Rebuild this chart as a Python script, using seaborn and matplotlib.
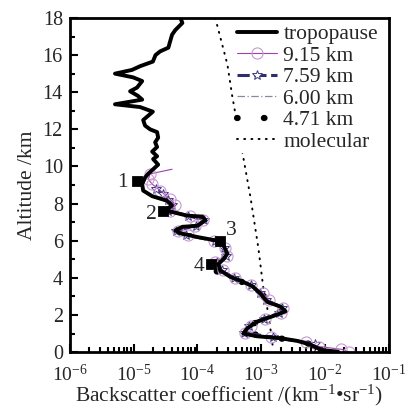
import numpy as np
import pandas as pd
import matplotlib
matplotlib.use("Agg")
import matplotlib.pyplot as plt
from matplotlib.ticker import MultipleLocator, LogLocator, NullFormatter
import seaborn as sns

# ---------------- data ----------------
trop_alt = [18.0, 17.73, 17.35, 17.1, 16.7, 16.4, 16.2, 16.0, 15.65, 15.4, 15.2, 15.0,
            14.8, 14.6, 14.25, 14.05, 13.8, 13.6, 13.35, 13.2, 12.95, 12.5, 12.2, 12.0,
            11.85, 11.55, 11.3, 11.05, 10.8, 10.55, 10.4, 10.1, 9.85, 9.6, 9.4, 9.05,
            8.7, 8.4, 8.15, 7.9, 7.75, 7.6, 7.55, 7.35, 7.3, 7.1, 6.8, 6.75, 6.55, 6.4,
            6.2, 6.0, 5.75, 5.3, 5.0, 4.75, 4.4, 4.05, 3.85, 3.55, 3.15, 2.7, 2.45, 2.2,
            1.95, 1.65, 1.3, 1.0, 0.85, 0.75, 0.6, 0.4, 0.2, 0.1, 0.02]
trop_val = [5.4e-5, 5.8e-5, 4.5e-5, 4.0e-5, 3.7e-5, 3.5e-5, 2.6e-5, 2.2e-5, 2.0e-5, 1.26e-5,
            9.4e-6, 5.1e-6, 9.8e-6, 1.36e-5, 1.13e-5, 8.8e-6, 1.17e-5, 1.36e-5, 5.1e-6,
            1.26e-5, 2.0e-5, 1.41e-5, 1.51e-5, 1.81e-5, 2.33e-5, 2.42e-5, 2.17e-5, 2.33e-5,
            1.95e-5, 2.33e-5, 2.02e-5, 2.42e-5, 2.02e-5, 1.68e-5, 1.51e-5, 1.36e-5, 1.41e-5,
            1.95e-5, 3.35e-5, 4.0e-5, 3.5e-5, 3.0e-5, 4.0e-5, 6.9e-5, 1.19e-4, 1.33e-4,
            9.9e-5, 5.8e-5, 4.5e-5, 5.4e-5, 9.9e-5, 2.05e-4, 2.55e-4, 2.94e-4, 2.55e-4,
            2.12e-4, 2.28e-4, 3.28e-4, 4.71e-4, 7.28e-4, 9.7e-4, 1.25e-3, 2.0e-3, 2.4e-3,
            1.56e-3, 8.7e-4, 6.1e-4, 5.25e-4, 8.7e-4, 2.0e-3, 3.7e-3, 5.9e-3, 7.7e-3,
            9.5e-3, 1.6e-2]

p915_alt = [9.85, 9.6, 9.3, 9.05, 8.7, 8.25, 7.9, 7.6, 7.35, 7.1, 6.8, 6.55, 6.3, 6.0,
            5.6, 5.2, 4.85, 4.4, 4.0, 3.6, 3.2, 2.8, 2.4, 2.1, 1.8, 1.4, 1.05, 0.8, 0.55,
            0.3, 0.15, 0.0]
p915_val = [4.0e-5, 1.8e-5, 1.7e-5, 1.95e-5, 2.6e-5, 3.7e-5, 4.5e-5, 3.7e-5, 7.7e-5,
            1.2e-4, 9.2e-5, 5.0e-5, 7.2e-5, 1.8e-4, 2.7e-4, 2.9e-4, 1.9e-4, 2.5e-4, 3.9e-4,
            6.8e-4, 1.05e-3, 1.3e-3, 2.2e-3, 2.0e-3, 1.15e-3, 6.8e-4, 5.6e-4, 1.4e-3,
            5.0e-3, 8.0e-3, 1.8e-2, 2.4e-2]

p759_alt = [8.8, 8.5, 8.2, 7.9, 7.6, 7.35, 7.1, 6.8, 6.55, 6.3, 6.0, 5.6, 5.2, 4.85,
            4.4, 4.0, 3.6, 3.2, 2.8, 2.4, 2.1, 1.8, 1.4, 1.05, 0.8, 0.45]
p759_val = [2.2e-5, 2.9e-5, 3.5e-5, 4.0e-5, 3.5e-5, 7.2e-5, 1.28e-4, 9.5e-5, 4.6e-5,
            6.7e-5, 1.85e-4, 2.6e-4, 2.8e-4, 2.0e-4, 2.4e-4, 3.7e-4, 6.8e-4, 9.7e-4,
            1.2e-3, 2.1e-3, 1.9e-3, 1.1e-3, 6.5e-4, 5.4e-4, 1.5e-3, 7.0e-3]

p600_alt = [6.0, 5.6, 5.2, 4.85, 4.4, 4.0, 3.6, 3.2, 2.8, 2.4, 2.1, 1.8, 1.4, 1.05,
            0.8, 0.5, 0.2]
p600_val = [2.1e-4, 2.6e-4, 2.9e-4, 2.1e-4, 2.3e-4, 3.6e-4, 6.6e-4, 9.5e-4, 1.25e-3,
            2.1e-3, 1.9e-3, 1.1e-3, 6.4e-4, 5.3e-4, 1.5e-3, 5.5e-3, 9.0e-3]

p471_alt = [4.35, 4.0, 3.6, 3.2, 2.8, 2.4, 2.1, 1.8, 1.4, 1.05, 0.8, 0.55, 0.3]
p471_val = [2.0e-4, 3.5e-4, 6.6e-4, 9.7e-4, 1.25e-3, 2.1e-3, 1.9e-3, 1.1e-3, 6.3e-4,
            5.3e-4, 1.5e-3, 4.5e-3, 7.5e-3]

mol_alt = [18.0, 15.5, 13.8, 10.75, 8.3, 5.6, 3.4, 2.0, 0.4]
mol_val = [1.9e-4, 2.94e-4, 3.5e-4, 5.06e-4, 6.8e-4, 9.0e-4, 1.08e-3, 1.3e-3, 1.5e-3]

tp_labels = ["1", "2", "3", "4"]
tp_alt = [9.2, 7.6, 6.0, 4.75]
tp_val = [1.13e-5, 2.9e-5, 2.28e-4, 1.6e-4]

series_labels = ["tropopause", "9.15 km", "7.59 km", "6.00 km", "4.71 km", "molecular"]

# ---------------- style ----------------
sns.set_theme(style="ticks")
plt.rcParams["font.family"] = ["Liberation Serif", "DejaVu Serif"]
plt.rcParams["mathtext.fontset"] = "custom"
plt.rcParams["mathtext.rm"] = "Liberation Serif"
plt.rcParams["mathtext.it"] = "Liberation Serif:italic"
plt.rcParams["mathtext.bf"] = "Liberation Serif:bold"
FS = 15.5
TFS = 14.5
XTFS = 14

fig = plt.figure(figsize=(4.06, 4.08), dpi=100)
ax = fig.add_axes([0.172, 0.137, 0.786, 0.819])


def draw(vals, alts, label, **kw):
    df = pd.DataFrame({"val": vals, "alt": alts})
    sns.lineplot(data=df, x="val", y="alt", sort=False, estimator=None, ax=ax,
                 label=label, **kw)


draw(mol_val, mol_alt, series_labels[5], color="black", lw=1.4,
     linestyle=(0, (0.5, 3.2)), dash_capstyle="round")
draw(p600_val, p600_alt, series_labels[3], color="#8a8a9a", lw=0.9,
     linestyle=(0, (6, 2, 1, 2)))
draw(p471_val, p471_alt, series_labels[4], color="black", lw=4.5,
     linestyle=(0, (0.1, 4.2)), dash_capstyle="round")
draw(p759_val, p759_alt, series_labels[2], color="#2e2e6e", lw=2.2,
     linestyle=(0, (4, 1.5)), marker="*", markersize=7, markerfacecolor="white",
     markeredgecolor="#3a3a80", markeredgewidth=0.7)
draw(p915_val, p915_alt, series_labels[1], color="#a040b0", lw=0.8,
     marker="o", markersize=8, markerfacecolor="none", markevery=list(range(1, len(p915_alt))),
     markeredgecolor="#c898d0", markeredgewidth=0.8)
draw(trop_val, trop_alt, series_labels[0], color="black", lw=2.8)

sns.scatterplot(x=tp_val, y=tp_alt, marker="s", s=50, color="black",
                edgecolor="black", ax=ax, zorder=10, legend=False)
offsets = [(-15, -1), (-12, -3), (11, 10), (-12, -3)]
for lab, v, a, off in zip(tp_labels, tp_val, tp_alt, offsets):
    ax.annotate(lab, xy=(v, a), xytext=off, textcoords="offset pixels",
                ha="center", va="center", fontsize=FS)

ax.set_xscale("log")
ax.set_xlim(1e-6, 1e-1)
ax.set_ylim(0, 18)
ax.yaxis.set_major_locator(MultipleLocator(2))
ax.yaxis.set_minor_locator(MultipleLocator(1))
ax.xaxis.set_major_locator(LogLocator(base=10, numticks=10))
ax.xaxis.set_minor_locator(LogLocator(base=10, subs=np.arange(2, 10), numticks=20))
ax.xaxis.set_minor_formatter(NullFormatter())

for s in ax.spines.values():
    s.set_visible(True)
    s.set_linewidth(2.0)
    s.set_color("black")
ax.tick_params(which="both", direction="in", color="black", width=1.5,
               top=False, right=False)
ax.tick_params(axis="x", which="both", pad=8.5, labelsize=XTFS)
ax.tick_params(axis="y", which="both", pad=5, labelsize=TFS)
ax.tick_params(which="major", length=6)
ax.tick_params(which="minor", length=3.5)

ax.set_xlabel("Backscatter coefficient /(km$^{-1}$\u2022sr$^{-1}$)", fontsize=FS,
              labelpad=-1.5)
ax.set_ylabel("Altitude /km", fontsize=FS, labelpad=4)

# legend in the required order
handles, labels = ax.get_legend_handles_labels()
hmap = dict(zip(labels, handles))
leg = ax.legend([hmap[l] for l in series_labels], series_labels, loc="upper left",
                bbox_to_anchor=(236 / 406, 1 - 23 / 408), bbox_transform=fig.transFigure,
                frameon=True, facecolor="white",
                edgecolor="none", framealpha=1, fontsize=FS, handlelength=1.85,
                handletextpad=0.3, labelspacing=0.07, borderpad=0.05, borderaxespad=0)
leg.get_frame().set_linewidth(0)

fig.savefig("out.png", dpi=100)
